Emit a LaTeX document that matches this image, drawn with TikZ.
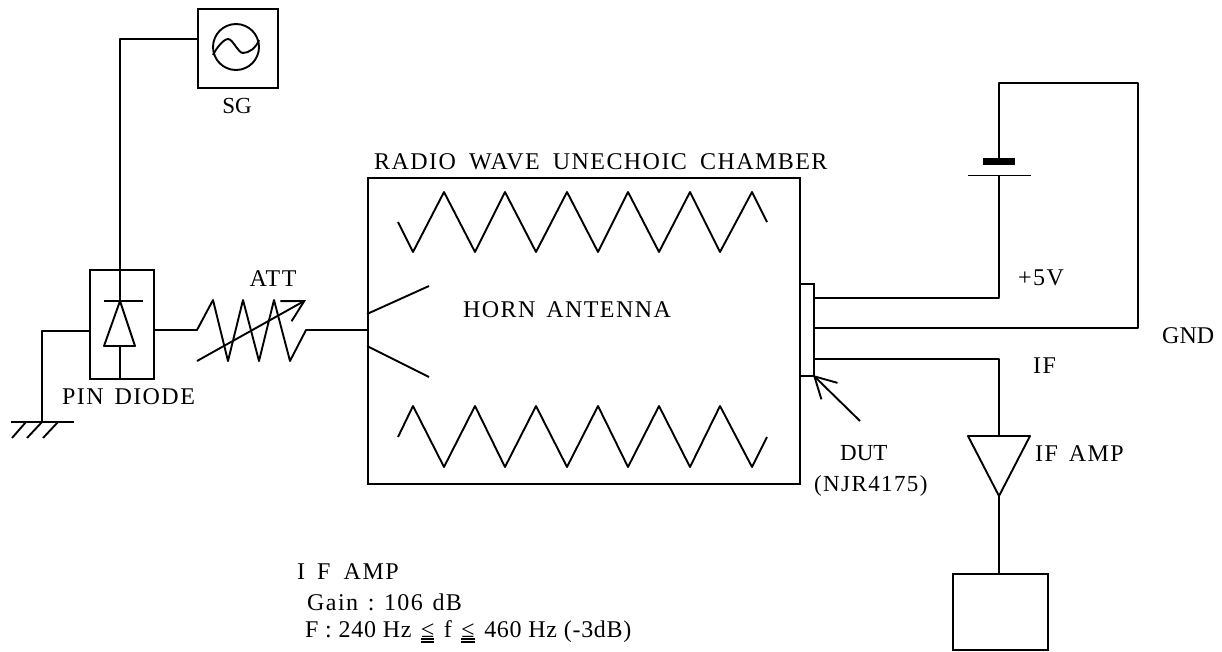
\documentclass[tikz,border=0pt]{standalone}
\usepackage{fontspec}
\setmainfont{Liberation Serif}
\newfontfamily\spaced[LetterSpace=6]{Liberation Serif}
\newfontfamily\spacedb[LetterSpace=3]{Liberation Serif}
\usetikzlibrary{arrows.meta}
\newcommand{\uleq}{\hspace{0.12em}\vtop{\hbox{≤}\kern0.5pt\hrule height 2pt\kern1.5pt\hrule height 2pt}\hspace{0.12em}}
\tikzset{
  wire/.style={draw=black,line width=1.9pt,line join=round},
  thickplate/.style={draw=black,line width=7pt},
  lab/.style={font=\fontsize{24}{27}\selectfont\spaced,inner sep=0pt,anchor=west},
  plainlab/.style={font=\fontsize{23}{27}\selectfont,inner sep=0pt,anchor=west},
  boxy/.style={draw=black,line width=1.9pt,inner sep=0pt,anchor=north west},
  barb/.style={-{Straight Barb[length=21pt,width=23pt,line width=1.9pt]}}
}
\begin{document}
\begin{tikzpicture}[x=1pt,y=-1pt]
\useasboundingbox (0,0) rectangle (1222,651);
% SG
\node[boxy,minimum width=80pt,minimum height=79pt] (sg) at (197,8) {};
\node[draw=black,line width=1.9pt,circle,minimum size=46pt,inner sep=0pt] (osc) at (236,47) {};
\draw[wire] (213,55) .. controls (217,47) and (224,39) .. (228,39) .. controls (233,39) and (238,53) .. (243,53) .. controls (249,53) and (256,48) .. (259,40);
\node[plainlab,anchor=center] (sglab) at (237,106) {SG};
% PIN diode
\node[boxy,minimum width=64pt,minimum height=109pt] (pin) at (89,269) {};
\coordinate (corner) at (120,39);
\coordinate (sgin) at (197,39);
\coordinate (bar) at (120,301);
\coordinate (base) at (120,346);
\coordinate (pinb) at (120,378);
\draw[wire] (sgin) -- (corner) -- (bar);
\draw[wire] (base) -- (pinb);
\draw[wire] (104,301) -- (143,301);
\draw[wire] (120,301) -- (104,346) -- (135,346) -- cycle;
\node[lab] (pinlab) at (62,397) {PIN\hspace{0.45em}DIODE};
% ground
\coordinate (pl) at (89,331);
\coordinate (gc) at (42,331);
\coordinate (g) at (42,422);
\draw[wire] (pl) -- (gc) -- (g);
\draw[wire] (11,422) -- (74,422);
\draw[wire] (26,422) -- (12,438);
\draw[wire] (42,422) -- (27,438);
\draw[wire] (58,422) -- (43,438);
% attenuator
\coordinate (pr) at (153,330);
\coordinate (hornfeed) at (367,330);
\draw[wire] (pr) -- (197,330) -- (213,300) -- (228,361) -- (243,300) -- (259,361) -- (274,300) -- (290,361) -- (306,330) -- (hornfeed);
\coordinate (atts) at (197,361);
\coordinate (atte) at (306,300);
\draw[wire,barb] (atts) -- (atte);
\node[lab,anchor=center] (attlab) at (273,279) {ATT};
% chamber
\node[boxy,minimum width=432pt,minimum height=306pt] (ch) at (367,177) {};
\node[lab] (chlab) at (374,162) {RADIO\hspace{0.55em}WAVE\hspace{0.55em}UNECHOIC\hspace{0.55em}CHAMBER};
\draw[wire] (398,222) -- (413,252) -- (444,192) -- (475,252) -- (505,192) -- (536,252) -- (567,192) -- (598,252) -- (628,192) -- (659,252) -- (690,192) -- (720,252) -- (752,192) -- (767,222);
\draw[wire] (398,437) -- (413,406) -- (444,467) -- (475,406) -- (505,467) -- (536,406) -- (567,467) -- (598,406) -- (628,467) -- (659,406) -- (690,467) -- (720,406) -- (752,467) -- (767,437);
\draw[wire] (367,314) -- (429,286);
\draw[wire] (367,346) -- (429,377);
\node[lab] (hornlab) at (463,310) {HORN\hspace{0.45em}ANTENNA};
% DUT
\node[boxy,minimum width=14pt,minimum height=92pt] (dut) at (799,283) {};
\coordinate (dt) at (813,375);
\coordinate (dtail) at (860,421);
\draw[wire,barb] (dtail) -- (dt);
\node[plainlab] (dutlab) at (840,453) {DUT};
\node[plainlab] (njrlab) at (814,486) {\fontsize{23}{27}\selectfont\spaced (NJR4175)};
% bias
\coordinate (a1) at (813,298);
\coordinate (a2) at (999,298);
\coordinate (a3) at (999,175);
\coordinate (b1) at (999,162);
\coordinate (b2) at (999,83);
\coordinate (b3) at (1138,83);
\coordinate (b4) at (1138,328);
\coordinate (b5) at (813,328);
\draw[wire] (a1) -- (a2) -- (a3);
\draw[wire] (968,175.5) -- (1031,175.5);
\draw[thickplate] (983,161.5) -- (1015,161.5);
\draw[wire] (b1) -- (b2) -- (b3) -- (b4) -- (b5);
\node[lab] (vlab) at (1018,278) {+5V};
\node[plainlab] (gndlab) at (1162,336) {\fontsize{24}{27}\selectfont GND};
% IF
\coordinate (c1) at (813,359);
\coordinate (c2) at (999,359);
\coordinate (c3) at (999,436);
\draw[wire] (c1) -- (c2) -- (c3);
\node[lab] (iflab) at (1033,366) {IF};
\draw[wire] (968,436) -- (1030,436) -- (999,496) -- cycle;
\coordinate (amp) at (999,496);
\node[boxy,minimum width=95pt,minimum height=76pt] (load) at (952,573) {};
\draw[wire] (amp) -- (amp |- load.north);
\node[lab] (amplab) at (1035,454) {IF\hspace{0.45em}AMP};
% notes
\node[lab] (n1) at (297,572) {I\hspace{0.5em}F\hspace{0.55em}AMP};
\node[lab] (n2) at (307,602) {Gain\hspace{0.4em}:\hspace{0.4em}106\hspace{0.4em}dB};
\node[plainlab] (n3) at (305,632) {\fontsize{24}{27}\selectfont\spacedb F : 240 Hz \uleq{} f \uleq{} 460 Hz (-3dB)};
\end{tikzpicture}
\end{document}
